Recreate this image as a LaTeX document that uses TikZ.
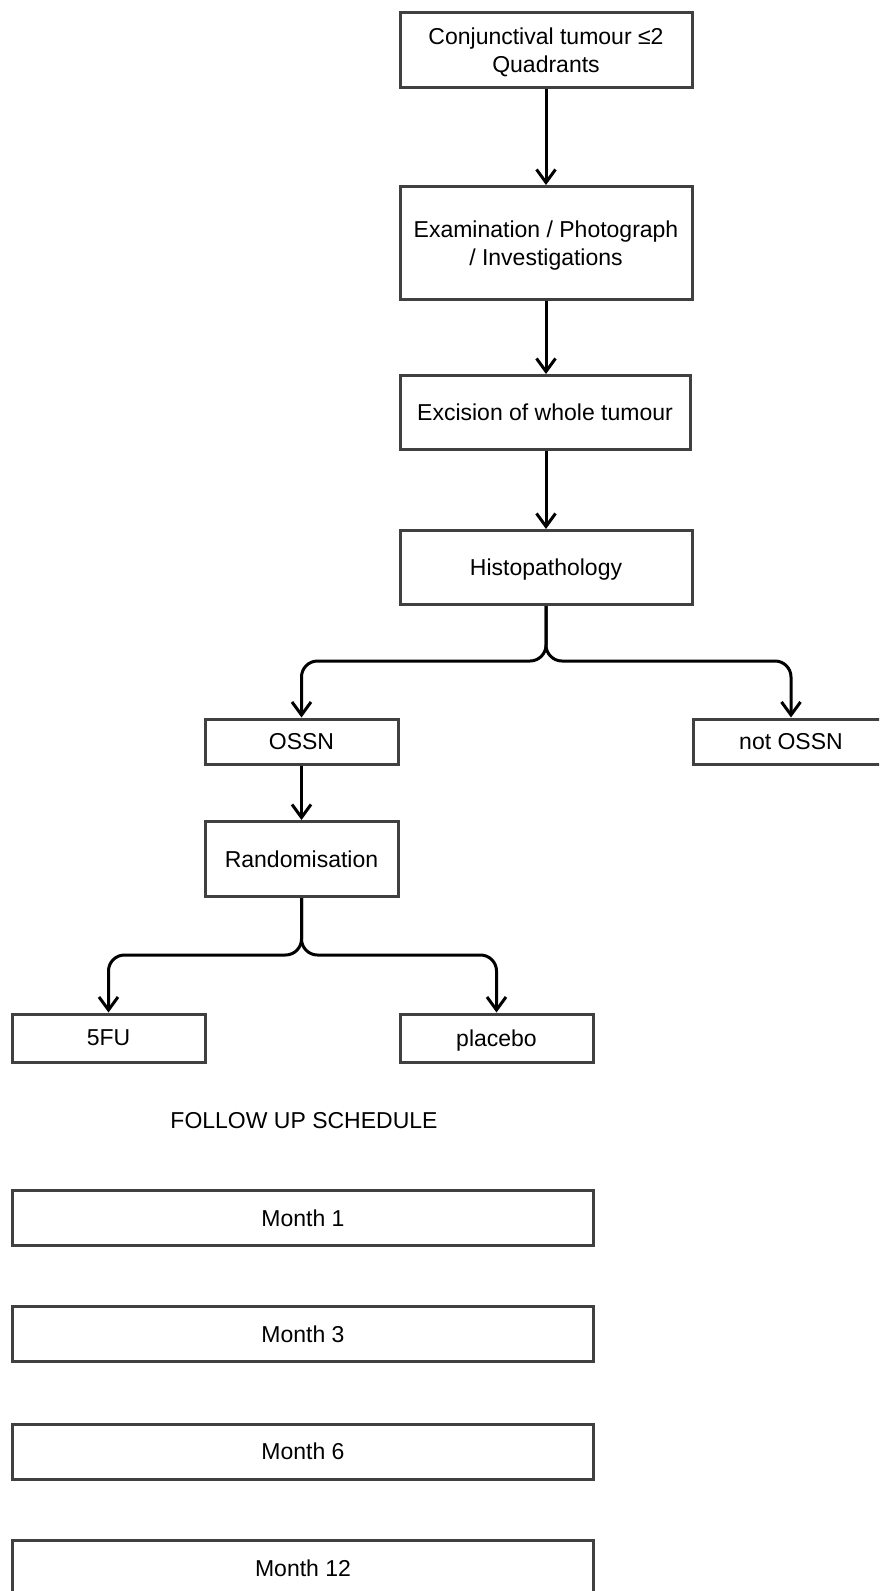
\documentclass[tikz,border=0pt]{standalone}
\usepackage{fontspec}
\setmainfont{Liberation Sans}
\usetikzlibrary{arrows.meta,positioning}

\tikzset{
  box/.style={draw=black!75, line width=3pt, fill=white, align=center, inner sep=2pt,
    text depth=0pt, font=\fontsize{23}{27.5}\selectfont},
  link/.style={line width=3pt, -{Straight Barb[length=13pt,width=19pt]}, rounded corners=16pt},
}

\begin{document}
\begin{tikzpicture}[x=1pt,y=-1pt]
\clip (0,0) rectangle (879,1591);

\node[box, minimum width=292pt, minimum height=75pt] (tumour) at (546,50) {Conjunctival tumour ≤2\\Quadrants};
\node[box, minimum width=292pt, minimum height=113pt] (exam) at (546,243) {Examination / Photograph\\/ Investigations};
\node[box, minimum width=290pt, minimum height=74pt] (excis) at (545,412.5) {Excision of whole tumour};
\node[box, minimum width=292pt, minimum height=74pt] (histo) at (546,567.5) {Histopathology};

\node[box, minimum width=193pt, minimum height=45pt] (ossn) at (301.5,741.5) {OSSN};
\node[box, minimum width=196pt, minimum height=45pt] (notossn) at (791,741.5) {not OSSN};
\node[box, minimum width=193pt, minimum height=75pt] (rand) at (301.5,859) {Randomisation};

\node[box, minimum width=193pt, minimum height=48pt] (fivefu) at (108.5,1038) {5FU};
\node[box, minimum width=193pt, minimum height=48pt] (placebo) at (496.5,1038) {placebo};

\node[font=\fontsize{23}{27.5}\selectfont] (schedule) at (304,1121) {FOLLOW UP SCHEDULE};

\node[box, minimum width=581pt, minimum height=55pt] (m1) at (303,1218) {Month 1};
\node[box, minimum width=581pt, minimum height=55pt] (m3) at (303,1334) {Month 3};
\node[box, minimum width=581pt, minimum height=55pt] (m6) at (303,1451.5) {Month 6};
\node[box, minimum width=581pt, minimum height=55pt] (m12) at (303,1568) {Month 12};

\coordinate (split1) at (546,661);
\coordinate (split2) at (301.5,955);

\draw[link] (tumour) -- (exam);
\draw[link] (exam) -- (excis.north -| exam);
\draw[link] (excis.south -| histo) -- (histo);
\draw[link] (histo.south) -- (split1) -| (ossn.north);
\draw[link] (histo.south) -- (split1) -| (notossn.north);
\draw[link] (ossn) -- (rand);
\draw[link] (rand.south) -- (split2) -| (fivefu.north);
\draw[link] (rand.south) -- (split2) -| (placebo.north);
\end{tikzpicture}
\end{document}
